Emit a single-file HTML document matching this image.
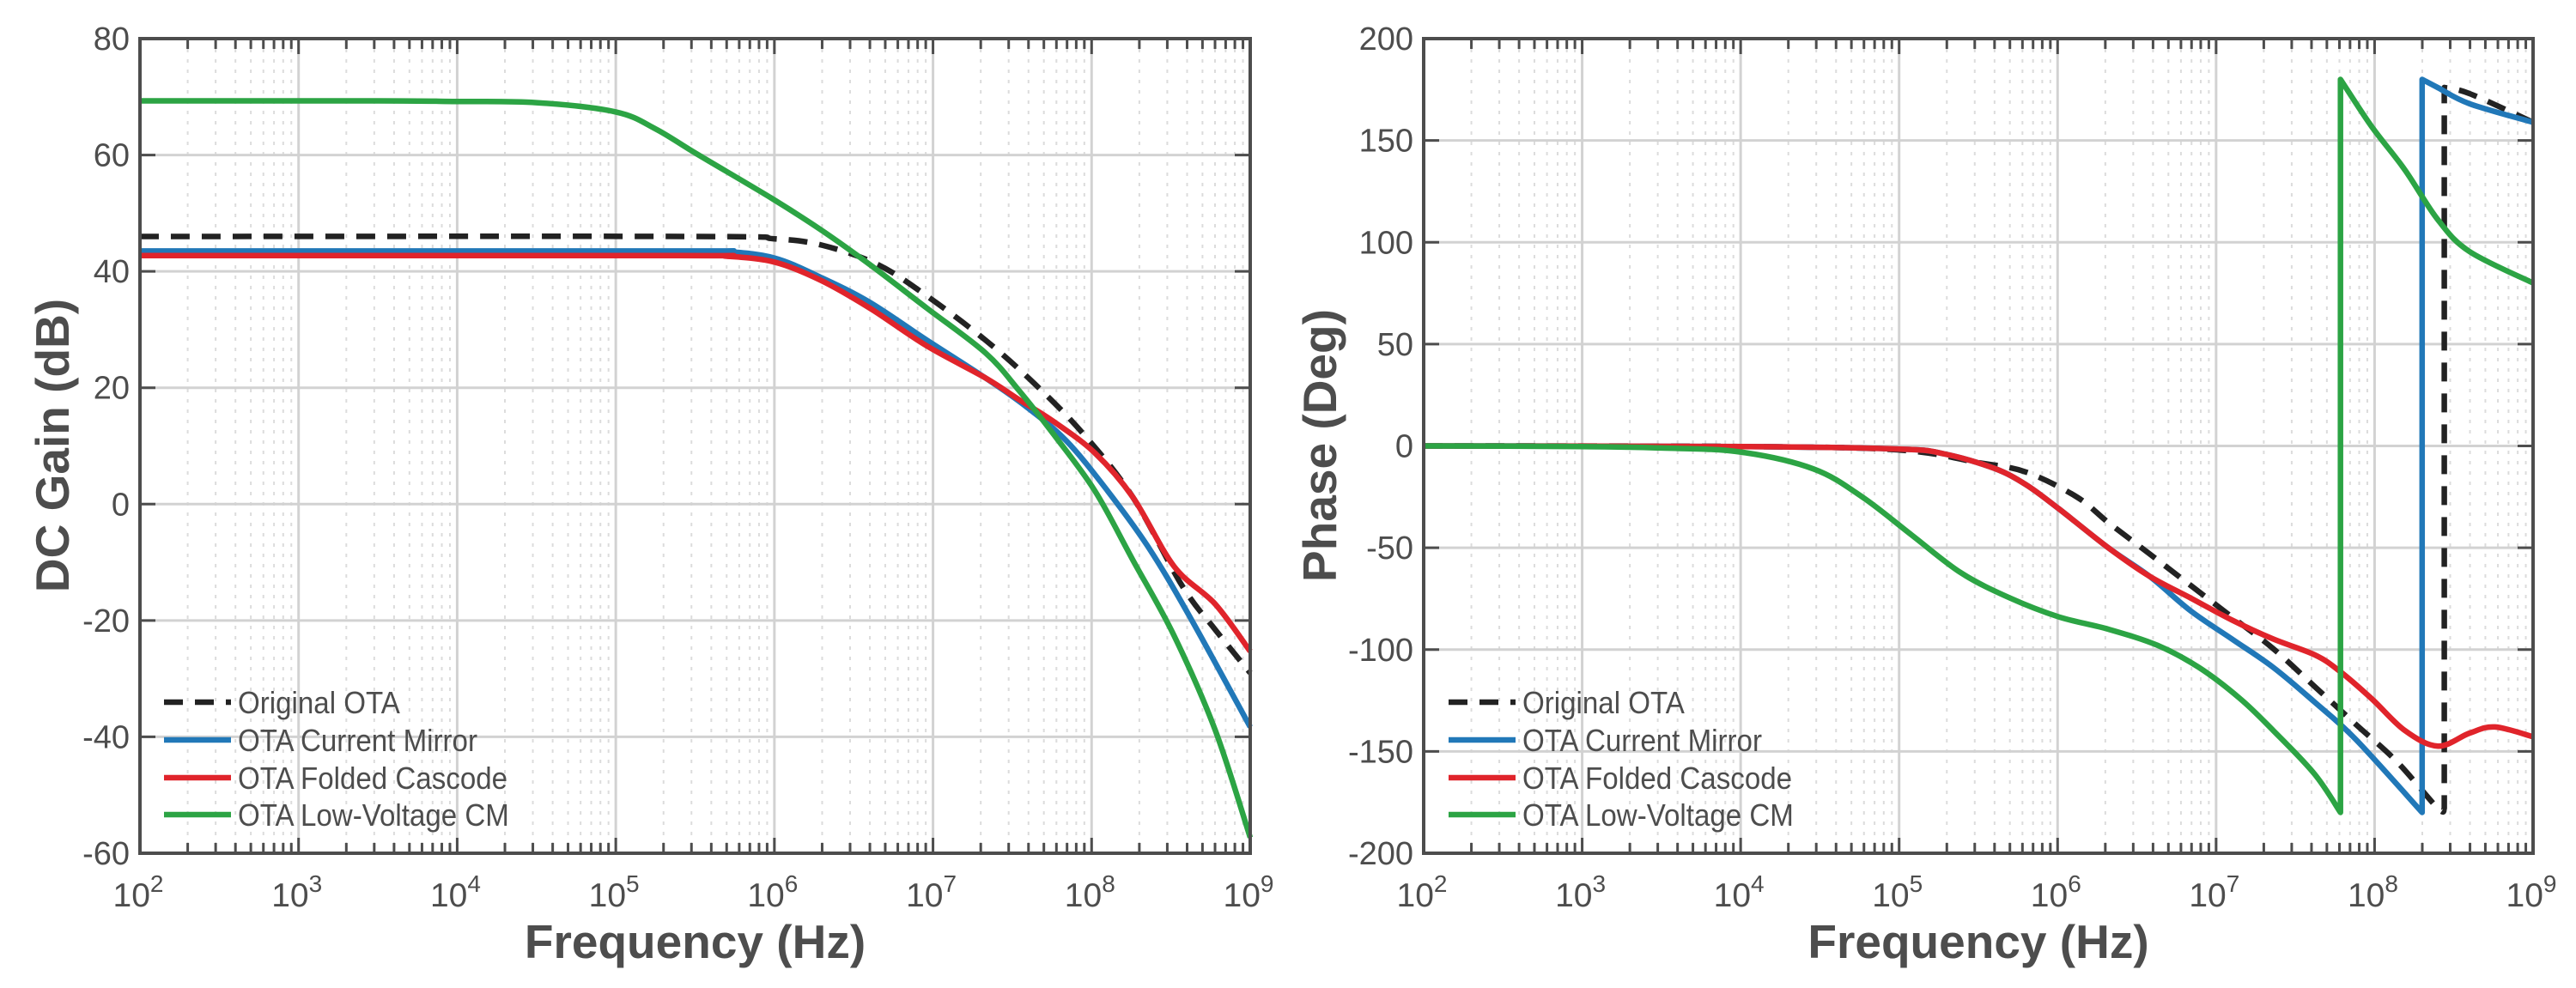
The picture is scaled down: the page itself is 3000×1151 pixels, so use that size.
<!DOCTYPE html>
<html><head><meta charset="utf-8"><style>
html,body{margin:0;padding:0;background:#fff}
svg{display:block}
text{font-family:"Liberation Sans",sans-serif;fill:#4d4d4d}
</style></head><body>
<svg id="c" width="3000" height="1151" viewBox="0 0 3000 1151" xmlns="http://www.w3.org/2000/svg"></svg>
<script>
// ---------- data ----------
const xTickExps = [2,3,4,5,6,7,8,9];
const gainTicks = [80,60,40,20,0,-20,-40,-60];
const phaseTicks = [200,150,100,50,0,-50,-100,-150,-200];
const seriesNames = ["Original OTA","OTA Current Mirror","OTA Folded Cascode","OTA Low-Voltage CM"];

// gain: log10(f) and dB
const gainOrigX = [2,5.5,6,6.3,6.65,6.96,7.33,7.64,7.95,8.26,8.57,8.78,9];
const gainOrigY = [46,46,45.6,44.5,41.2,35.8,28.2,20.7,12,1.2,-14,-21.6,-29];
const gainCmX = [2,5.4,5.7,6.0,6.29,6.6,6.96,7.33,7.58,7.84,8.1,8.36,8.62,9];
const gainCmY = [43.5,43.5,43.4,42.3,39,34.7,28.2,21.7,16.9,10.9,2.3,-7.5,-19.4,-38.3];
const gainFcX = [2,5.4,5.7,6.0,6.29,6.6,6.96,7.33,7.54,7.76,8.02,8.26,8.52,8.78,9];
const gainFcY = [42.7,42.7,42.6,41.6,38.5,33.7,27.2,21.7,18,14.2,8.8,1.2,-10.7,-17.2,-25.3];
const gainLvX = [2,3.5,4,4.5,5,5.25,5.51,5.98,6.29,6.6,6.96,7.33,7.54,7.76,8.02,8.26,8.52,8.78,9];
const gainLvY = [69.3,69.3,69.2,69,67.4,64.5,60.2,52.6,47.2,41.2,33.7,26,19.6,12,2.3,-9.6,-22.6,-38.9,-57.3];

// phase: log10(f) and degrees
const phOrigX = [2,4,5,5.5,5.8,6.12,6.32,6.58,6.84,7.1,7.36,7.62,7.88,8.14,8.4,8.44,8.44,8.6,9];
const phOrigY = [0,-0.3,-2,-8.2,-12.8,-25,-37.6,-53,-68.5,-84,-99.5,-118,-136.6,-155,-178,-178,176,173,158.9];
const phCmX = [2,4,5,5.29,5.6,5.8,6.01,6.32,6.58,6.84,7.1,7.36,7.62,7.88,8.3,8.3,8.4,8.6,9];
const phCmY = [0,-0.3,-1.5,-4,-11,-19,-31,-50,-64,-81,-94.8,-108.7,-125.7,-144,-180,180,175.9,168,158.9];
const phFcX = [2,4,5,5.29,5.6,5.8,6.01,6.32,6.58,6.84,7.1,7.36,7.62,7.77,7.98,8.19,8.4,8.6,8.76,9];
const phFcY = [0,-0.3,-1.5,-4,-11,-19,-31,-50,-64,-74.7,-85.5,-94.8,-102.5,-110,-124,-139.7,-147.4,-141,-138,-142.8];
const phLvX = [2,3,3.5,4,4.46,4.77,5.08,5.39,5.7,6.01,6.32,6.63,6.89,7.15,7.36,7.62,7.785,7.785,7.98,8.19,8.4,8.6,9];
const phLvY = [0,-0.3,-1,-3,-11.3,-25.2,-43.8,-62.3,-74.7,-84,-90,-97.9,-108.7,-124,-139.7,-161,-180,180,157,135.7,111,95.4,80];

const colors = ["#222222","#2178b8","#e0242b","#2ca444"];
const NS = "http://www.w3.org/2000/svg";
const svg = document.getElementById('c');
function el(tag, attrs, parent){ const e=document.createElementNS(NS,tag); for(const k in attrs) e.setAttribute(k,attrs[k]); (parent||svg).appendChild(e); return e; }

function smoothPath(pts){
  // split into runs at vertical jumps
  const runs=[]; let cur=[pts[0]];
  for(let i=1;i<pts.length;i++){
    if(Math.abs(pts[i][0]-pts[i-1][0])<0.5){ runs.push(cur); cur=[pts[i]]; }
    else cur.push(pts[i]);
  }
  runs.push(cur);
  let d='';
  runs.forEach((r,ri)=>{
    d += (ri===0?'M':'L')+r[0][0].toFixed(1)+' '+r[0][1].toFixed(1);
    for(let i=0;i<r.length-1;i++){
      const p0=r[Math.max(0,i-1)],p1=r[i],p2=r[i+1],p3=r[Math.min(r.length-1,i+2)];
      const t=1/6;
      const c1=[p1[0]+(p2[0]-p0[0])*t,p1[1]+(p2[1]-p0[1])*t];
      const c2=[p2[0]-(p3[0]-p1[0])*t,p2[1]-(p3[1]-p1[1])*t];
      d+=' C'+c1[0].toFixed(1)+' '+c1[1].toFixed(1)+' '+c2[0].toFixed(1)+' '+c2[1].toFixed(1)+' '+p2[0].toFixed(1)+' '+p2[1].toFixed(1);
    }
  });
  return d;
}

function drawPanel(opt){
  const {L,R,T,B,ymin,ymax,yticks,ylabel,ylabelX,series,legX,prefix} = opt;
  const g = el('g',{});
  
  
  const sx = v => L + (v-2)/7*(R-L);
  const sy = v => B - (v-ymin)/(ymax-ymin)*(B-T);
  for(let e=2;e<9;e++) for(let m=2;m<=9;m++){
    const x=sx(e+Math.log10(m));
    el('line',{x1:x,x2:x,y1:T,y2:B,stroke:'#dcdcdc','stroke-width':2,'stroke-dasharray':'4 8'},g);
    el('line',{x1:x,x2:x,y1:T,y2:T+12,stroke:'#4d4d4d','stroke-width':3},g);
    el('line',{x1:x,x2:x,y1:B,y2:B-12,stroke:'#4d4d4d','stroke-width':3},g);
  }
  xTickExps.forEach(e=>{
    const x=sx(e);
    el('line',{x1:x,x2:x,y1:T,y2:B,stroke:'#d2d2d2','stroke-width':3},g);
    el('line',{x1:x,x2:x,y1:T,y2:T+18,stroke:'#4d4d4d','stroke-width':3},g);
    el('line',{x1:x,x2:x,y1:B,y2:B-18,stroke:'#4d4d4d','stroke-width':3},g);
    const t=el('text',{x:x-2,y:B+62,'font-size':39,'text-anchor':'middle'},g);
    
    
    t.textContent='10';
    const s=el('tspan',{dy:-17,'font-size':28},t); s.textContent=String(e);
  });
  yticks.forEach(v=>{
    const y=sy(v);
    el('line',{x1:L,x2:R,y1:y,y2:y,stroke:'#d2d2d2','stroke-width':3},g);
    el('line',{x1:L,x2:L+18,y1:y,y2:y,stroke:'#4d4d4d','stroke-width':3},g);
    el('line',{x1:R,x2:R-18,y1:y,y2:y,stroke:'#4d4d4d','stroke-width':3},g);
    const t=el('text',{x:L-12,y:y+13,'font-size':38,'text-anchor':'end'},g);
    
    
    t.textContent=String(v);
  });
  series.forEach((s,i)=>{
    const pts=s.x.map((xv,j)=>[sx(xv),sy(s.y[j])]);
    const p=el('path',{d:smoothPath(pts),fill:'none',stroke:colors[i],'stroke-width':6.5,'stroke-linejoin':'round','stroke-dasharray':i===0?'22 14':'none'},g);
    
    
  });
  const box=el('rect',{x:L,y:T,width:R-L,height:B-T,fill:'none',stroke:'#4d4d4d','stroke-width':4},g);
  
  
  const lg=el('g',{},g);
  
  
  const rows=[818,862,906,949];
  seriesNames.forEach((n,i)=>{
    const y=rows[i];
    el('line',{x1:legX,x2:legX+78,y1:y,y2:y,stroke:colors[i],'stroke-width':6.5,'stroke-dasharray':i===0?'22 14':'none'},lg);
    const t=el('text',{x:legX+86,y:y+13,'font-size':36},lg);
    
    
    t.setAttribute('transform','translate('+(legX+86)+' 0) scale(0.92 1) translate('+(-(legX+86))+' 0)');
    t.textContent=n;
  });
  const xl=el('text',{x:(L+R)/2,y:1116,'font-size':55,'font-weight':'bold','text-anchor':'middle'},g);
  
  
  xl.textContent='Frequency (Hz)';
  const yl=el('text',{x:0,y:0,'font-size':55,'font-weight':'bold','text-anchor':'middle',transform:'translate('+ylabelX+' 519) rotate(-90)'},g);
  
  
  yl.textContent=ylabel;
}

drawPanel({prefix:'gain',L:163,R:1456,T:45,B:994,ymin:-60,ymax:80,yticks:gainTicks,ylabel:'DC Gain (dB)',ylabelX:80,legX:191,
  series:[{x:gainOrigX,y:gainOrigY},{x:gainCmX,y:gainCmY},{x:gainFcX,y:gainFcY},{x:gainLvX,y:gainLvY}]});
drawPanel({prefix:'phase',L:1658,R:2950,T:45,B:994,ymin:-200,ymax:200,yticks:phaseTicks,ylabel:'Phase (Deg)',ylabelX:1556,legX:1687,
  series:[{x:phOrigX,y:phOrigY},{x:phCmX,y:phCmY},{x:phFcX,y:phFcY},{x:phLvX,y:phLvY}]});
</script>
</body></html>
